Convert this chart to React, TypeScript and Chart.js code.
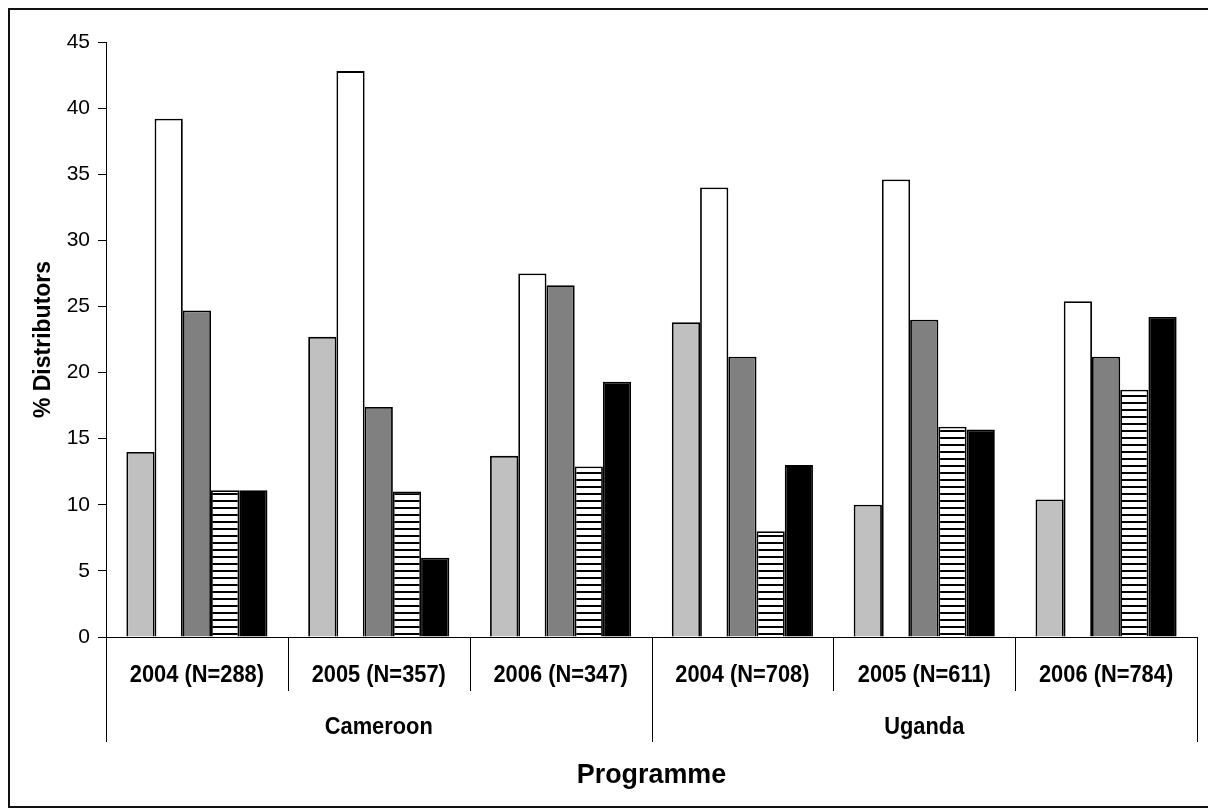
import React, { useEffect, useRef } from "react";
import { Chart, registerables } from "chart.js";

Chart.register(...registerables);

const categories = [
  "2004 (N=288)",
  "2005 (N=357)",
  "2006 (N=347)",
  "2004 (N=708)",
  "2005 (N=611)",
  "2006 (N=784)",
];
const groups = ["Cameroon", "Uganda"];
const groupSizes = [3, 3];

const seriesA = [14.0, 22.7, 13.7, 23.8, 10.0, 10.4];
const seriesB = [39.2, 42.8, 27.5, 34.0, 34.6, 25.4];
const seriesC = [24.7, 17.4, 26.6, 21.2, 24.0, 21.2];
const seriesD = [11.1, 11.0, 12.9, 8.0, 15.9, 18.7];
const seriesE = [11.1, 6.0, 19.3, 13.0, 15.7, 24.2];

const yTitle = "% Distributors";
const xTitle = "Programme";

const FONT = "'Liberation Sans', Arial, sans-serif";

function makeStripes(): CanvasPattern | string {
  const c = document.createElement("canvas");
  c.width = 4;
  c.height = 7;
  const g = c.getContext("2d");
  if (!g) return "#fff";
  g.fillStyle = "#ffffff";
  g.fillRect(0, 0, 4, 7);
  g.fillStyle = "#000000";
  g.fillRect(0, 0, 4, 2);
  const p = g.createPattern(c, "repeat");
  return p || "#fff";
}

function narrowText(ctx: CanvasRenderingContext2D, text: string, x: number, y: number, sx: number) {
  ctx.save();
  ctx.translate(x, y);
  ctx.scale(sx, 1);
  ctx.fillText(text, 0, 0);
  ctx.restore();
}

const bottomLabels = {
  id: "bottomLabels",
  afterDraw(chart: any) {
    const { ctx } = chart;
    const x = chart.scales.x;
    const base = chart.chartArea.bottom;
    const n = categories.length;
    const bounds: number[] = [x.left];
    for (let i = 0; i < n - 1; i++) {
      bounds.push((x.getPixelForValue(i) + x.getPixelForValue(i + 1)) / 2);
    }
    bounds.push(x.right);
    const longIdx = new Set<number>([0]);
    let acc = 0;
    groupSizes.forEach((s) => {
      acc += s;
      longIdx.add(acc);
    });
    ctx.save();
    ctx.strokeStyle = "#000";
    ctx.lineWidth = 1;
    bounds.forEach((bx, i) => {
      const px = Math.round(bx) + 0.5;
      ctx.beginPath();
      ctx.moveTo(px, base);
      ctx.lineTo(px, base + (longIdx.has(i) ? 105 : 54));
      ctx.stroke();
    });
    ctx.fillStyle = "#000";
    ctx.textAlign = "center";
    ctx.textBaseline = "middle";
    ctx.font = `bold 23px ${FONT}`;
    categories.forEach((c, i) => {
      narrowText(ctx, c, x.getPixelForValue(i), base + 39, 0.95);
    });
    let start = 0;
    groups.forEach((gname, gi) => {
      const end = start + groupSizes[gi];
      narrowText(ctx, gname, (bounds[start] + bounds[end]) / 2, base + 91, 0.95);
      start = end;
    });
    ctx.font = `bold 28px ${FONT}`;
    narrowText(ctx, xTitle, (x.left + x.right) / 2, base + 138, 0.96);
    ctx.restore();
  },
};

export default function App() {
  const ref = useRef<HTMLCanvasElement>(null);
  useEffect(() => {
    if (!ref.current) return;
    const stripes = makeStripes();
    const common = {
      borderColor: "#000",
      borderWidth: 1.8,
      categoryPercentage: 0.776,
      barPercentage: 1,
    };
    const chart = new Chart(ref.current, {
      type: "bar",
      data: {
        labels: categories,
        datasets: [
          { label: "A", data: seriesA, backgroundColor: "#c0c0c0", ...common },
          { label: "B", data: seriesB, backgroundColor: "#ffffff", ...common },
          { label: "C", data: seriesC, backgroundColor: "#808080", ...common },
          { label: "D", data: seriesD, backgroundColor: stripes as any, ...common },
          { label: "E", data: seriesE, backgroundColor: "#000000", ...common },
        ],
      },
      options: {
        animation: false,
        responsive: false,
        devicePixelRatio: 1,
        layout: { padding: { top: 32, right: 12, left: 0, bottom: 0 } },
        plugins: {
          legend: { display: false },
          tooltip: { enabled: false },
        },
        scales: {
          x: {
            grid: { display: false },
            border: { display: true, color: "#000", width: 1 },
            ticks: { display: false },
            afterFit: (s: any) => {
              s.height = 169;
            },
          },
          y: {
            min: 0,
            max: 45,
            ticks: {
              stepSize: 5,
              color: "#000",
              padding: 8,
              font: { family: FONT, size: 21 },
            },
            grid: {
              drawOnChartArea: false,
              drawTicks: true,
              tickLength: 8,
              color: "#000",
            },
            border: { display: true, color: "#000", width: 1 },
            title: {
              display: true,
              text: yTitle,
              color: "#000",
              font: { family: FONT, size: 23, weight: "bold" },
              padding: { top: 20, bottom: 0 },
            },
            afterFit: (s: any) => {
              s.width = 96;
            },
          },
        },
      },
      plugins: [bottomLabels],
    });
    return () => chart.destroy();
  }, []);
  return (
    <div
      style={{
        width: 1203,
        height: 800,
        border: "2px solid #111",
        boxSizing: "border-box",
        background: "#fff",
      }}
    >
      <canvas ref={ref} width={1199} height={796} style={{ display: "block" }} />
    </div>
  );
}
